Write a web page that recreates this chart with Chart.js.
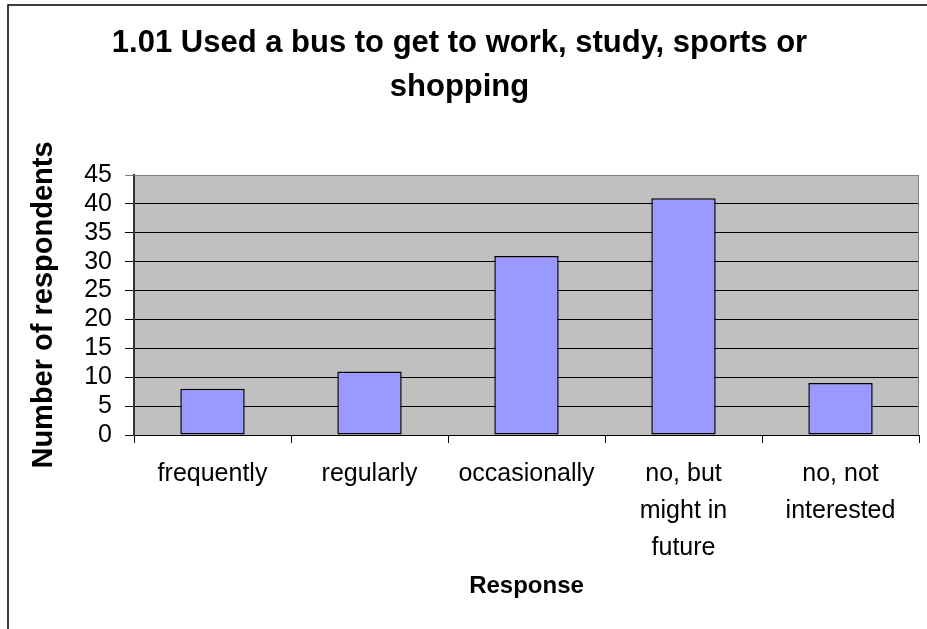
<!DOCTYPE html>
<html>
<head>
<meta charset="utf-8">
<script src="https://cdn.jsdelivr.net/npm/chart.js@4.4.1/dist/chart.umd.min.js"></script>
<style>
  html, body { margin: 0; padding: 0; background: #ffffff; }
  #wrap { width: 927px; height: 629px; position: relative; }
</style>
</head>
<body>
<div id="wrap"><canvas id="chart" width="927" height="629"></canvas></div>
<script>
// categories and values
const categories = [
    'frequently',
    'regularly',
    'occasionally',
    ['no, but', 'might in', 'future'],
    ['no, not', 'interested']
];
const respondents = [8, 11, 31, 41, 9];
const yTicks = [0, 5, 10, 15, 20, 25, 30, 35, 40, 45];

const FONT = "'Liberation Sans', Arial, Helvetica, sans-serif";

// grey plot area + outer frame (left and top edges only)
const backdrop = {
    id: 'backdrop',
    beforeDraw(chart) {
        const { ctx, chartArea: a } = chart;
        ctx.save();
        ctx.fillStyle = '#ffffff';
        ctx.fillRect(0, 0, chart.width, chart.height);
        ctx.fillStyle = '#c0c0c0';
        ctx.fillRect(a.left, a.top, a.right - a.left, a.bottom - a.top);
        ctx.restore();
    },
    afterDraw(chart) {
        const { ctx, chartArea: a } = chart;
        ctx.save();
        // plot border (top + right)
        ctx.strokeStyle = '#808080';
        ctx.lineWidth = 1;
        ctx.beginPath();
        ctx.moveTo(a.left, a.top + 0.5);
        ctx.lineTo(a.right - 0.5, a.top + 0.5);
        ctx.lineTo(a.right - 0.5, a.bottom);
        ctx.stroke();
        // frame
        ctx.strokeStyle = '#000000';
        ctx.lineWidth = 1.5;
        ctx.beginPath();
        ctx.moveTo(8, chart.height);
        ctx.lineTo(8, 5);
        ctx.lineTo(chart.width, 5);
        ctx.stroke();
        ctx.restore();
    }
};

new Chart(document.getElementById('chart'), {
    type: 'bar',
    data: {
        labels: categories,
        datasets: [{
            label: 'Number of respondents',
            data: respondents,
            backgroundColor: '#9999ff',
            borderColor: '#000000',
            borderWidth: 1.5,
            borderSkipped: false,
            categoryPercentage: 1,
            barPercentage: 0.41
        }]
    },
    options: {
        responsive: false,
        animation: false,
        devicePixelRatio: 1,
        layout: { padding: { left: 0, right: 8, top: 0, bottom: 0 } },
        plugins: {
            legend: { display: false },
            tooltip: { enabled: false },
            title: {
                display: true,
                text: ['1.01 Used a bus to get to work, study, sports or', 'shopping'],
                color: '#000000',
                font: { family: FONT, size: 31, weight: 'bold', lineHeight: 1.42 },
                padding: { top: 21, bottom: 66 }
            }
        },
        scales: {
            x: {
                grid: {
                    offset: true,
                    drawOnChartArea: false,
                    drawTicks: true,
                    tickLength: 8,
                    color: '#000000'
                },
                border: { color: '#000000', width: 1 },
                ticks: {
                    color: '#000000',
                    padding: 13,
                    maxRotation: 0,
                    autoSkip: false,
                    font: { family: FONT, size: 25, lineHeight: 1.48 }
                },
                title: {
                    display: true,
                    text: 'Response',
                    color: '#000000',
                    font: { family: FONT, size: 24, weight: 'bold' },
                    padding: { top: 0, bottom: 28 }
                },
                afterFit(scale) { scale.height = 194; }
            },
            y: {
                min: 0,
                max: 45,
                afterBuildTicks(scale) { scale.ticks = yTicks.map(v => ({ value: v })); },
                grid: {
                    color: (c) => c.tick && c.tick.value === 45 ? '#808080' : '#000000',
                    lineWidth: 1,
                    drawTicks: true,
                    tickLength: 9
                },
                border: { color: '#333333', width: 2 },
                ticks: {
                    color: '#000000',
                    padding: 13,
                    autoSkip: false,
                    font: { family: FONT, size: 25 }
                },
                title: {
                    display: true,
                    text: 'Number of respondents',
                    color: '#000000',
                    font: { family: FONT, size: 29, weight: 'bold' },
                    padding: { top: 27, bottom: 0 }
                },
                afterFit(scale) { scale.width = 134; }
            }
        }
    },
    plugins: [backdrop]
});
</script>
</body>
</html>
